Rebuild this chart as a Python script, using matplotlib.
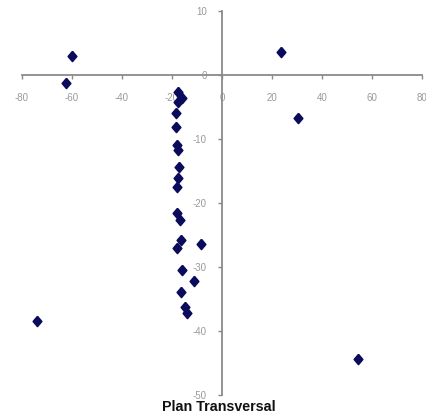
import matplotlib
matplotlib.use("Agg")
import matplotlib.pyplot as plt

# Angle measurements in the transverse plane (degrees)
x_vals = [-60.1, -62.4, -74.1, 23.5, 30.5, 54.5,
          -17.6, -16.0, -17.6, -18.4, -18.4, -18.0, -17.6, -17.2, -17.6, -18.0,
          -18.0, -16.8, -16.4, -18.0, -8.4, -16.0, -11.2, -16.4, -14.8, -14.0]
y_vals = [3.0, -1.2, -38.4, 3.6, -6.7, -44.3,
          -2.6, -3.6, -4.2, -5.9, -8.1, -10.9, -11.7, -14.4, -16.1, -17.5,
          -21.6, -22.7, -25.8, -27.0, -26.4, -30.5, -32.2, -33.9, -36.3, -37.2]

x_ticks = [-80, -60, -40, -20, 0, 20, 40, 60, 80]
y_ticks = [-50, -40, -30, -20, -10, 0, 10]
title = "Plan Transversal"

plt.rcParams["font.family"] = ["Liberation Sans", "DejaVu Sans"]

fig = plt.figure(figsize=(4.26, 4.20), dpi=100)
ax = fig.add_axes([22 / 426, 1 - 395 / 420, 400 / 426, 384 / 420])

# slightly tall, rounded-looking diamond marker
diamond = [(0, 1), (0.85, 0), (0, -1), (-0.85, 0), (0, 1)]
ax.scatter(x_vals, y_vals, marker=diamond, s=52, color="#0b0b5c",
           edgecolors="#0b0b5c", linewidths=1.2, zorder=3)

ax.set_xlim(-80, 80)
ax.set_ylim(-50, 10)

for side in ("top", "right"):
    ax.spines[side].set_visible(False)
ax.spines["left"].set_position(("data", 0))
ax.spines["bottom"].set_position(("data", 0))
for side in ("left", "bottom"):
    ax.spines[side].set_color("#8a8a8a")
    ax.spines[side].set_linewidth(1.3)
    ax.spines[side].set_zorder(2)

ax.set_xticks(x_ticks)
ax.set_yticks(y_ticks)
ax.set_xticklabels([str(v) for v in x_ticks])
ax.set_yticklabels([str(v) for v in y_ticks])
ax.tick_params(axis="x", direction="out", length=3, width=1, color="#8a8a8a",
               labelsize=7, labelcolor="#9a9a9a", pad=10)
ax.tick_params(axis="y", direction="out", length=3, width=1, color="#8a8a8a",
               labelsize=7, labelcolor="#9a9a9a", pad=8)
for lbl in ax.get_xticklabels():
    lbl.set_zorder(1)

fig.text(219 / 426, 1 - 407 / 420, title, ha="center", va="center",
         fontsize=10.3, fontweight="bold", color="#111111")

fig.savefig("out.png", dpi=100, facecolor="white")
